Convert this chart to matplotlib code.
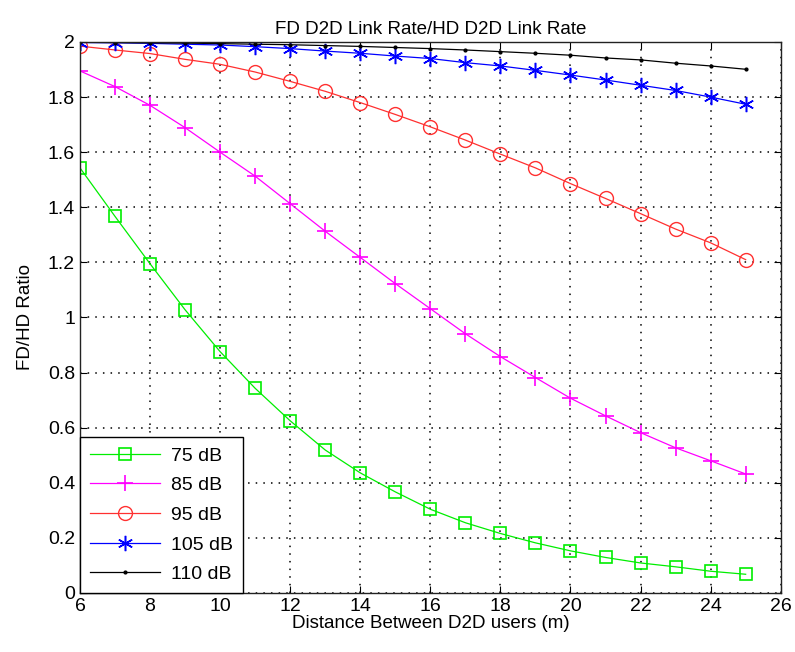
import matplotlib
matplotlib.use("Agg")
import matplotlib.pyplot as plt
import numpy as np

plt.rcParams['font.family'] = ['Liberation Sans', 'DejaVu Sans']

distance = list(range(6, 26))
ratio_75 = [1.543, 1.367, 1.195, 1.028, 0.876, 0.743, 0.625, 0.519, 0.436, 0.367,
            0.304, 0.255, 0.216, 0.182, 0.153, 0.129, 0.109, 0.095, 0.079, 0.068]
ratio_85 = [1.895, 1.838, 1.770, 1.689, 1.600, 1.513, 1.413, 1.313, 1.218, 1.123,
            1.032, 0.941, 0.858, 0.782, 0.707, 0.643, 0.582, 0.527, 0.480, 0.432]
ratio_95 = [1.985, 1.971, 1.958, 1.937, 1.919, 1.891, 1.857, 1.821, 1.780, 1.737,
            1.692, 1.644, 1.593, 1.543, 1.486, 1.432, 1.377, 1.321, 1.271, 1.210]
ratio_105 = [1.998, 1.997, 1.995, 1.992, 1.989, 1.983, 1.976, 1.967, 1.959, 1.949,
             1.940, 1.925, 1.913, 1.897, 1.880, 1.862, 1.843, 1.824, 1.800, 1.774]
ratio_110 = [1.999, 1.998, 1.997, 1.996, 1.994, 1.992, 1.990, 1.987, 1.984, 1.980,
             1.976, 1.971, 1.965, 1.959, 1.952, 1.942, 1.935, 1.923, 1.913, 1.901]
labels = ['75 dB', '85 dB', '95 dB', '105 dB', '110 dB']
xticks = list(range(6, 27, 2))
yticks = [0, 0.2, 0.4, 0.6, 0.8, 1, 1.2, 1.4, 1.6, 1.8, 2]

fig = plt.figure(figsize=(7.95, 6.52), dpi=100)
ax = fig.add_axes([0.1006, 0.0905, 0.8814, 0.8451])

series = [ratio_75, ratio_85, ratio_95, ratio_105, ratio_110]
styles = [
    dict(color='#00ee00', marker='s', markersize=8, mfc='none', mew=1.2),
    dict(color='#ff00ff', marker='+', markersize=12, mew=1.2),
    dict(color='#ff3030', marker='o', markersize=10, mfc='none', mew=1.0),
    dict(color='#0000ff', marker=(6, 2, 0), markersize=11, mew=1.1),
    dict(color='#000000', marker='.', markersize=4),
]
for y, lab, st in zip(series, labels, styles):
    ax.plot(distance, y, label=lab, linewidth=0.9, **st)

ax.set_xlim(6, 26)
ax.set_ylim(0, 2)
ax.set_xticks(xticks)
ax.set_yticks(yticks)
ax.set_yticklabels([f'{v:g}' for v in yticks])
ax.tick_params(direction='in', top=True, right=True, labelsize=14, length=5)
ax.grid(True, color='black', linestyle=(0, (1, 4)), linewidth=1.1)
for s in ax.spines.values():
    s.set_linewidth(1.0)
    s.set_color('#222222')

ax.set_title('FD D2D Link Rate/HD D2D Link Rate', fontsize=13.5, pad=6)
ax.set_xlabel('Distance Between D2D users (m)', fontsize=13.5, labelpad=0)
ax.set_ylabel('FD/HD Ratio', fontsize=13.5, labelpad=10)

leg = ax.legend(loc='lower left', fontsize=14, frameon=True, fancybox=False,
                edgecolor='black', framealpha=1, borderaxespad=0, handlelength=3.6,
                labelspacing=0.62, borderpad=0.5, handletextpad=0.6)
leg.get_frame().set_linewidth(1.0)

fig.savefig('out.png', dpi=100)
